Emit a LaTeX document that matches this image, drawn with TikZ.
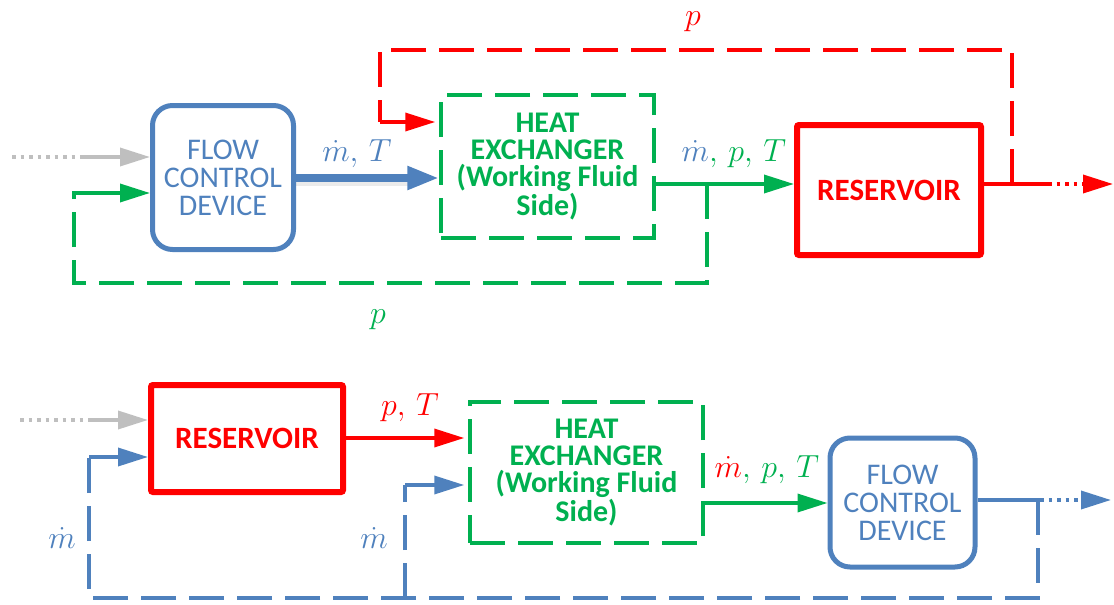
\documentclass[tikz,border=0pt]{standalone}
\usepackage{fix-cm}
\usepackage{fontspec}
\setmainfont{Carlito}
\usepackage{xcolor}
\usetikzlibrary{positioning,arrows.meta}

\definecolor{flowblue}{RGB}{79,129,189}
\definecolor{hxgreen}{RGB}{0,176,80}
\definecolor{resred}{RGB}{255,0,0}
\definecolor{ingray}{RGB}{191,191,191}

\begin{document}
\begin{tikzpicture}[
  x=1pt, y=-1pt,
  every node/.style={font=\fontsize{30}{28}\selectfont},
  fcd/.style={draw=flowblue,line width=5pt,rounded corners=20pt,
              text=flowblue,align=center,inner sep=0pt},
  hx/.style={draw=hxgreen,line width=3.5pt,dash pattern=on 35pt off 13pt,
             text=hxgreen,align=center,inner sep=0pt,
             font=\fontsize{30}{27}\selectfont\bfseries},
  res/.style={draw=resred,line width=6pt,rounded corners=2pt,text=resred,
              inner sep=0pt,font=\fontsize{31}{28}\selectfont\bfseries},
  lbl/.style={font=\fontsize{32}{32}\selectfont,inner sep=0pt},
  arr/.style={line width=3.5pt,-{Triangle[length=30pt,width=18pt]}},
  fb/.style={line width=3.5pt,dash pattern=on 35pt off 13pt},
  dots/.style={line width=3.5pt,dash pattern=on 3.5pt off 5pt}
]
\useasboundingbox (0,0) rectangle (1114,605);

% upper loop
\node[fcd, minimum width=141pt, minimum height=144pt] (fcdA) at (223,177.5)
  {FLOW\\CONTROL\\DEVICE};
\node[hx, minimum width=213pt, minimum height=143pt] (hxA) at (547.5,166.5)
  {HEAT\\EXCHANGER\\(Working Fluid\\Side)};
\node[res, minimum width=184pt, minimum height=130pt] (resA) at (889,190)
  {RESERVOIR};

\coordinate (inA) at (12,157);
\coordinate (inAs) at (84,157);
\coordinate (tapG) at (707,184);
\coordinate (botG) at (74,283);
\coordinate (fbG) at (74,193);
\coordinate (tapR) at (1012,184);
\coordinate (topR) at (380,50);
\coordinate (fbR) at (380,122);
\coordinate (outA) at (1048,184);
\coordinate (endA) at (1113,184);

\draw[dots, ingray] (inA) -- (inAs);
\draw[arr, ingray] (inAs) -- (fcdA.west |- inAs);

\draw[line width=8pt, black, opacity=0.08, transform canvas={yshift=-4pt}]
  (fcdA.east |- 0,178) -- (420,178);
\draw[line width=8pt, flowblue, -{Triangle[length=32pt,width=22pt]}]
  (fcdA.east |- 0,178) -- (hxA.west |- 0,178);
\node[lbl, text=flowblue] (lblA) at (357,154) {$\dot m,\, T$};

\draw[arr, hxgreen] (hxA.east |- tapG) -- (resA.west |- tapG);
\node[lbl, text=hxgreen] (lblB) at (734,154)
  {$\textcolor{flowblue}{\dot m},\, p,\, T$};

\draw[fb, hxgreen] (tapG) |- (botG) -- (fbG) -- ++(10,0);
\draw[arr, hxgreen] (fbG) -- (fcdA.west |- fbG);
\node[lbl, text=hxgreen] (lblC) at (378,320) {$p$};

\draw[line width=3.5pt, resred] (resA.east |- outA) -- (outA);
\draw[dots, resred, -{Triangle[length=30pt,width=18pt]}] (outA) -- (endA);

\draw[fb, resred] (tapR) |- (topR) -- (fbR);
\draw[arr, resred] (fbR) -- ([xshift=-4pt]hxA.west |- fbR);
\node[lbl, text=resred] (lblD) at (693,22) {$p$};

% lower loop
\node[res, minimum width=192pt, minimum height=107pt] (resB) at (247,438.5)
  {RESERVOIR};
\node[hx, minimum width=233pt, minimum height=141pt] (hxB) at (586.5,472.5)
  {HEAT\\EXCHANGER\\(Working Fluid\\Side)};
\node[fcd, minimum width=145pt, minimum height=129pt] (fcdB) at (902.5,502.5)
  {FLOW\\CONTROL\\DEVICE};

\coordinate (inB) at (20,420);
\coordinate (inBs) at (90,420);
\coordinate (tapB) at (1038,500);
\coordinate (botB) at (89,598);
\coordinate (fbB) at (89,457);
\coordinate (fbH) at (405,485);
\coordinate (outB) at (1040,500);
\coordinate (endB) at (1111,500);

\draw[dots, ingray] (inB) -- (inBs);
\draw[arr, ingray] (inBs) -- (resB.west |- inBs);

\draw[arr, resred] (resB.east |- 0,438) -- ([xshift=-4pt]hxB.west |- 0,438);
\node[lbl, text=resred] (lblE) at (410,408) {$p,\, T$};

\draw[arr, hxgreen] (hxB.east |- 0,503) -- (fcdB.west |- 0,503);
\node[lbl, text=hxgreen] (lblF) at (767,470)
  {$\textcolor{resred}{\dot m},\, p,\, T$};

\draw[line width=3.5pt, flowblue] (fcdB.east |- outB) -- (outB);
\draw[dots, flowblue, -{Triangle[length=30pt,width=18pt]}] (outB) -- (endB);

\draw[fb, flowblue] (tapB) |- (botB) -- (fbB);
\draw[arr, flowblue] (fbB) -- (resB.west |- fbB);
\draw[fb, flowblue] (fbH |- botB) -- (fbH);
\draw[arr, flowblue] (fbH) -- ([xshift=-4pt]hxB.west |- fbH);
\node[lbl, text=flowblue] (lblG) at (62,538) {$\dot m$};
\node[lbl, text=flowblue] (lblH) at (374,538) {$\dot m$};
\end{tikzpicture}
\end{document}
